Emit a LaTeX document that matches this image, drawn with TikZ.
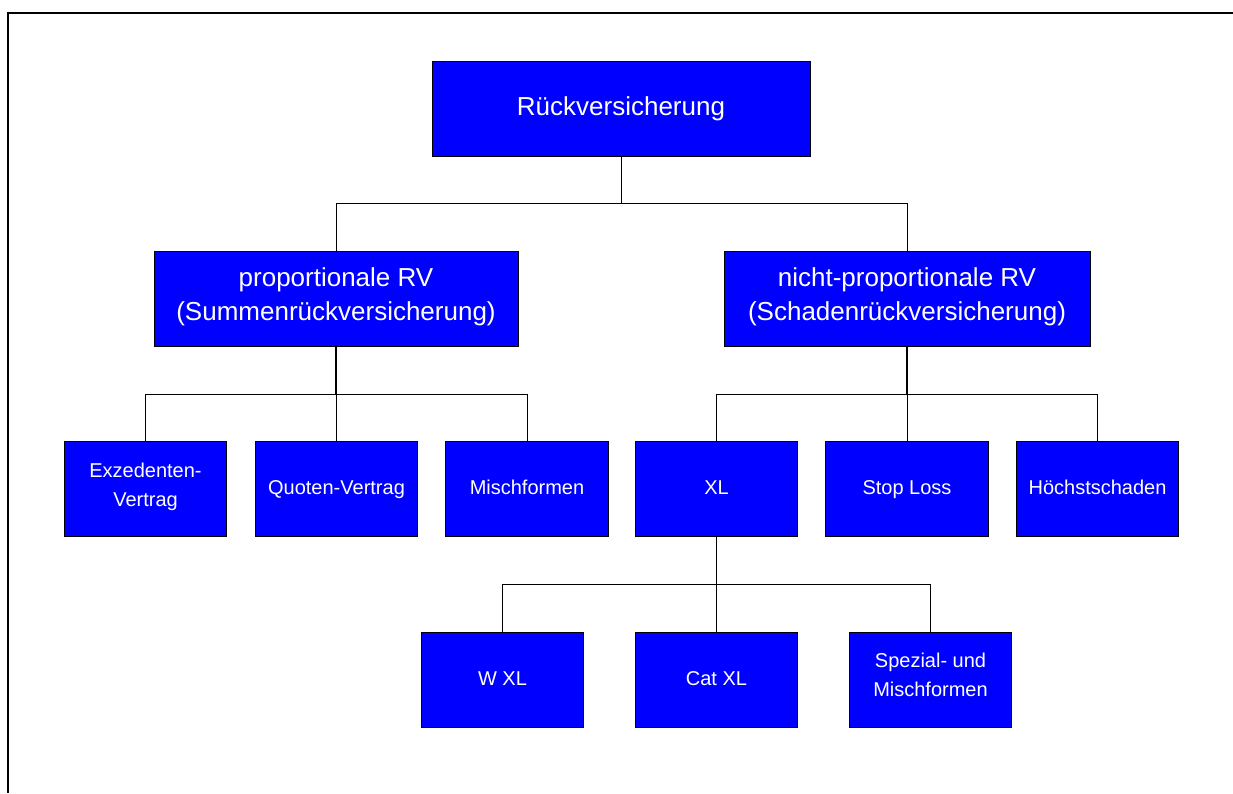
\documentclass[tikz,border=0pt]{standalone}
\usepackage{fontspec}
\setmainfont{Liberation Sans}
\definecolor{rvblue}{RGB}{0,0,255}
\tikzset{
  rvbox/.style={draw=black, line width=0.8pt, fill=rvblue, text=white, align=center, inner sep=0pt, minimum height=95pt,
    execute at begin node=\strut, execute at end node=\strut},
  bigbox/.style={rvbox, font=\fontsize{26}{34}\selectfont},
  smallbox/.style={rvbox, minimum width=162.5pt, font=\fontsize{20}{29}\selectfont},
  branch/.style={line width=0.8pt},
  trunk/.style={line width=1.8pt}
}

\begin{document}
\begin{tikzpicture}[x=1pt, y=-1pt]
	%%%%% START %%%%%
	\useasboundingbox (0,0) rectangle (1233,793);
	\draw[line width=2pt] (1233,13) -- (8.3,13) -- (8.3,793);
	
	\node[bigbox, minimum width=378pt] (ruck) at (621,108.5) {Rückversicherung};
	
	\node[bigbox, minimum width=364pt] (prop) at (336,299) {proportionale RV\\(Summenrückversicherung)};
	\node[bigbox, minimum width=366pt] (nprop) at (907,299) {nicht-proportionale RV\\(Schadenrückversicherung)};
	
	\node[smallbox] (exz) at (145.5,489) {Exzedenten-\\Vertrag};
	\node[smallbox] (quot) at (336.5,489) {Quoten-Vertrag};
	\node[smallbox] (misch) at (527,489) {Mischformen};
	\node[smallbox] (xl) at (716.5,489) {XL};
	\node[smallbox] (stop) at (907,489) {Stop Loss};
	\node[smallbox] (hoechst) at (1097.5,489) {Höchstschaden};
	
	\node[smallbox] (wxl) at (502.5,679.5) {W XL};
	\node[smallbox] (catxl) at (716.5,679.5) {Cat XL};
	\node[smallbox] (spez) at (930.5,679.5) {Spezial- und\\Mischformen};
	
	\draw[branch] (ruck.south) -- ++(0,47) coordinate (rbar);
	\draw[branch] (rbar) -| (prop.north);
	\draw[branch] (rbar) -| (nprop.north);
	
	\draw[trunk] (prop.south) -- ++(0,47) coordinate (pbar);
	\draw[branch] (pbar) -| (exz.north);
	\draw[branch] (pbar) -| (quot.north);
	\draw[branch] (pbar) -| (misch.north);
	
	\draw[trunk] (nprop.south) -- ++(0,47) coordinate (nbar);
	\draw[branch] (nbar) -| (xl.north);
	\draw[branch] (nbar) -| (stop.north);
	\draw[branch] (nbar) -| (hoechst.north);
	
	\draw[branch] (xl.south) -- ++(0,47.5) coordinate (xbar);
	\draw[branch] (xbar) -| (wxl.north);
	\draw[branch] (xbar) -| (catxl.north);
	\draw[branch] (xbar) -| (spez.north);
	%%%%% END %%%%%
\end{tikzpicture}
\end{document}
